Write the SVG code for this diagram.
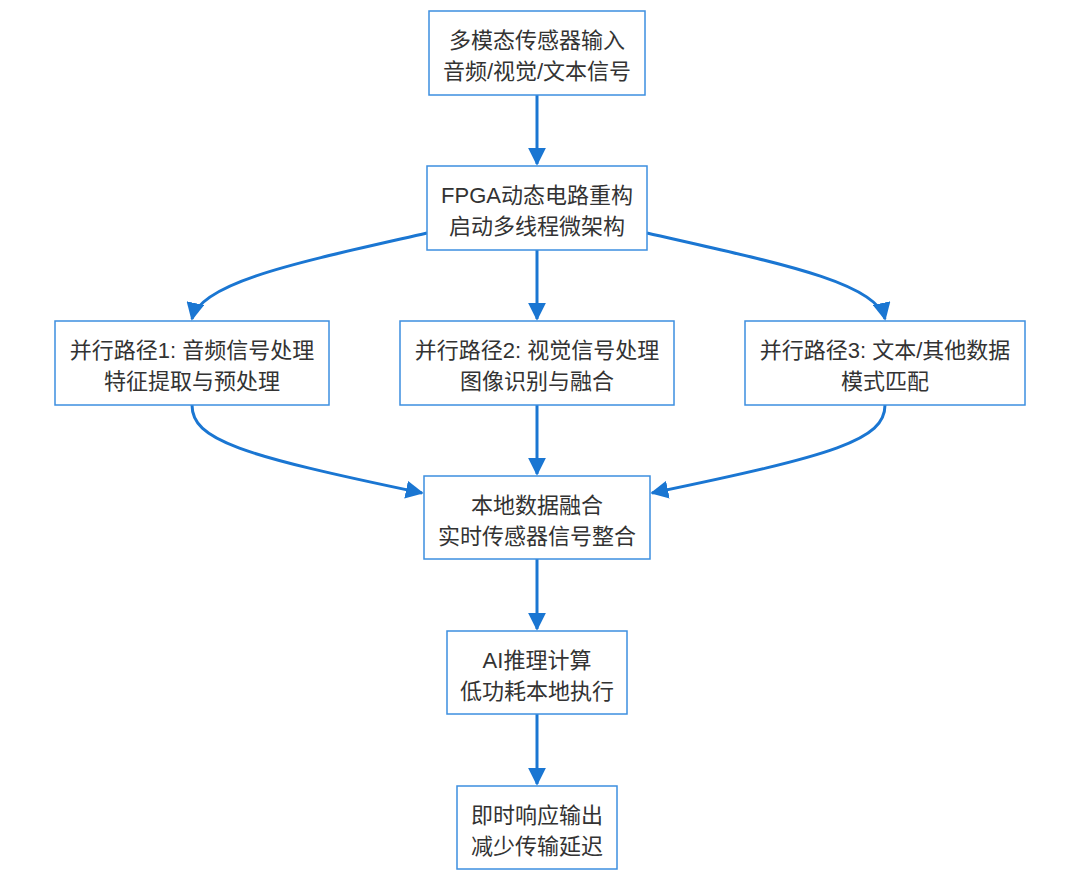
<svg xmlns="http://www.w3.org/2000/svg" width="1080" height="888" viewBox="0 0 1080 888">
<style>
.box{fill:#ffffff;stroke:#3d8fe0;stroke-width:1.5}
.t{font-family:"Liberation Sans","Noto Sans CJK SC",sans-serif;font-size:22px;fill:#333333;text-anchor:middle}
.c{fill:none;stroke:#1a76d2;stroke-width:3}
</style>
<defs>
<marker id="ah" viewBox="0 0 10 10" refX="9" refY="5" markerWidth="6" markerHeight="6" markerUnits="strokeWidth" orient="auto">
<path d="M0,0 L10,5 L0,10 z" fill="#1a76d2"/>
</marker>
</defs>
<rect width="1080" height="888" fill="#ffffff"/>
<g id="connectors">
<path class="c" d="M537,95 V164" marker-end="url(#ah)"/>
<path class="c" d="M427,233 C300,262 200,282 192,319" marker-end="url(#ah)"/>
<path class="c" d="M537,250 V319" marker-end="url(#ah)"/>
<path class="c" d="M647,233 C774,262 877,282 885,319" marker-end="url(#ah)"/>
<path class="c" d="M192,405 C192,440 240,455 422,493" marker-end="url(#ah)"/>
<path class="c" d="M537,405 V474" marker-end="url(#ah)"/>
<path class="c" d="M885,405 C885,440 835,455 652,493" marker-end="url(#ah)"/>
<path class="c" d="M537,559 V629" marker-end="url(#ah)"/>
<path class="c" d="M537,714 V784" marker-end="url(#ah)"/>
</g>
<g id="n1"><rect class="box" x="429" y="11" width="216" height="84"/><text class="t" x="537" y="48">多模态传感器输入</text><text class="t" x="537" y="79">音频/视觉/文本信号</text></g>
<g id="n2"><rect class="box" x="427" y="166" width="220" height="84"/><text class="t" x="537" y="203">FPGA动态电路重构</text><text class="t" x="537" y="234">启动多线程微架构</text></g>
<g id="n3"><rect class="box" x="55" y="321" width="274" height="84"/><text class="t" x="192" y="358">并行路径1: 音频信号处理</text><text class="t" x="192" y="389">特征提取与预处理</text></g>
<g id="n4"><rect class="box" x="400" y="321" width="274" height="84"/><text class="t" x="537" y="358">并行路径2: 视觉信号处理</text><text class="t" x="537" y="389">图像识别与融合</text></g>
<g id="n5"><rect class="box" x="745" y="321" width="280" height="84"/><text class="t" x="885" y="358">并行路径3: 文本/其他数据</text><text class="t" x="885" y="389">模式匹配</text></g>
<g id="n6"><rect class="box" x="424" y="476" width="226" height="83"/><text class="t" x="537" y="513">本地数据融合</text><text class="t" x="537" y="544">实时传感器信号整合</text></g>
<g id="n7"><rect class="box" x="447" y="631" width="180" height="83"/><text class="t" x="537" y="668">AI推理计算</text><text class="t" x="537" y="699">低功耗本地执行</text></g>
<g id="n8"><rect class="box" x="457" y="786" width="160" height="83"/><text class="t" x="537" y="823">即时响应输出</text><text class="t" x="537" y="854">减少传输延迟</text></g>
</svg>
